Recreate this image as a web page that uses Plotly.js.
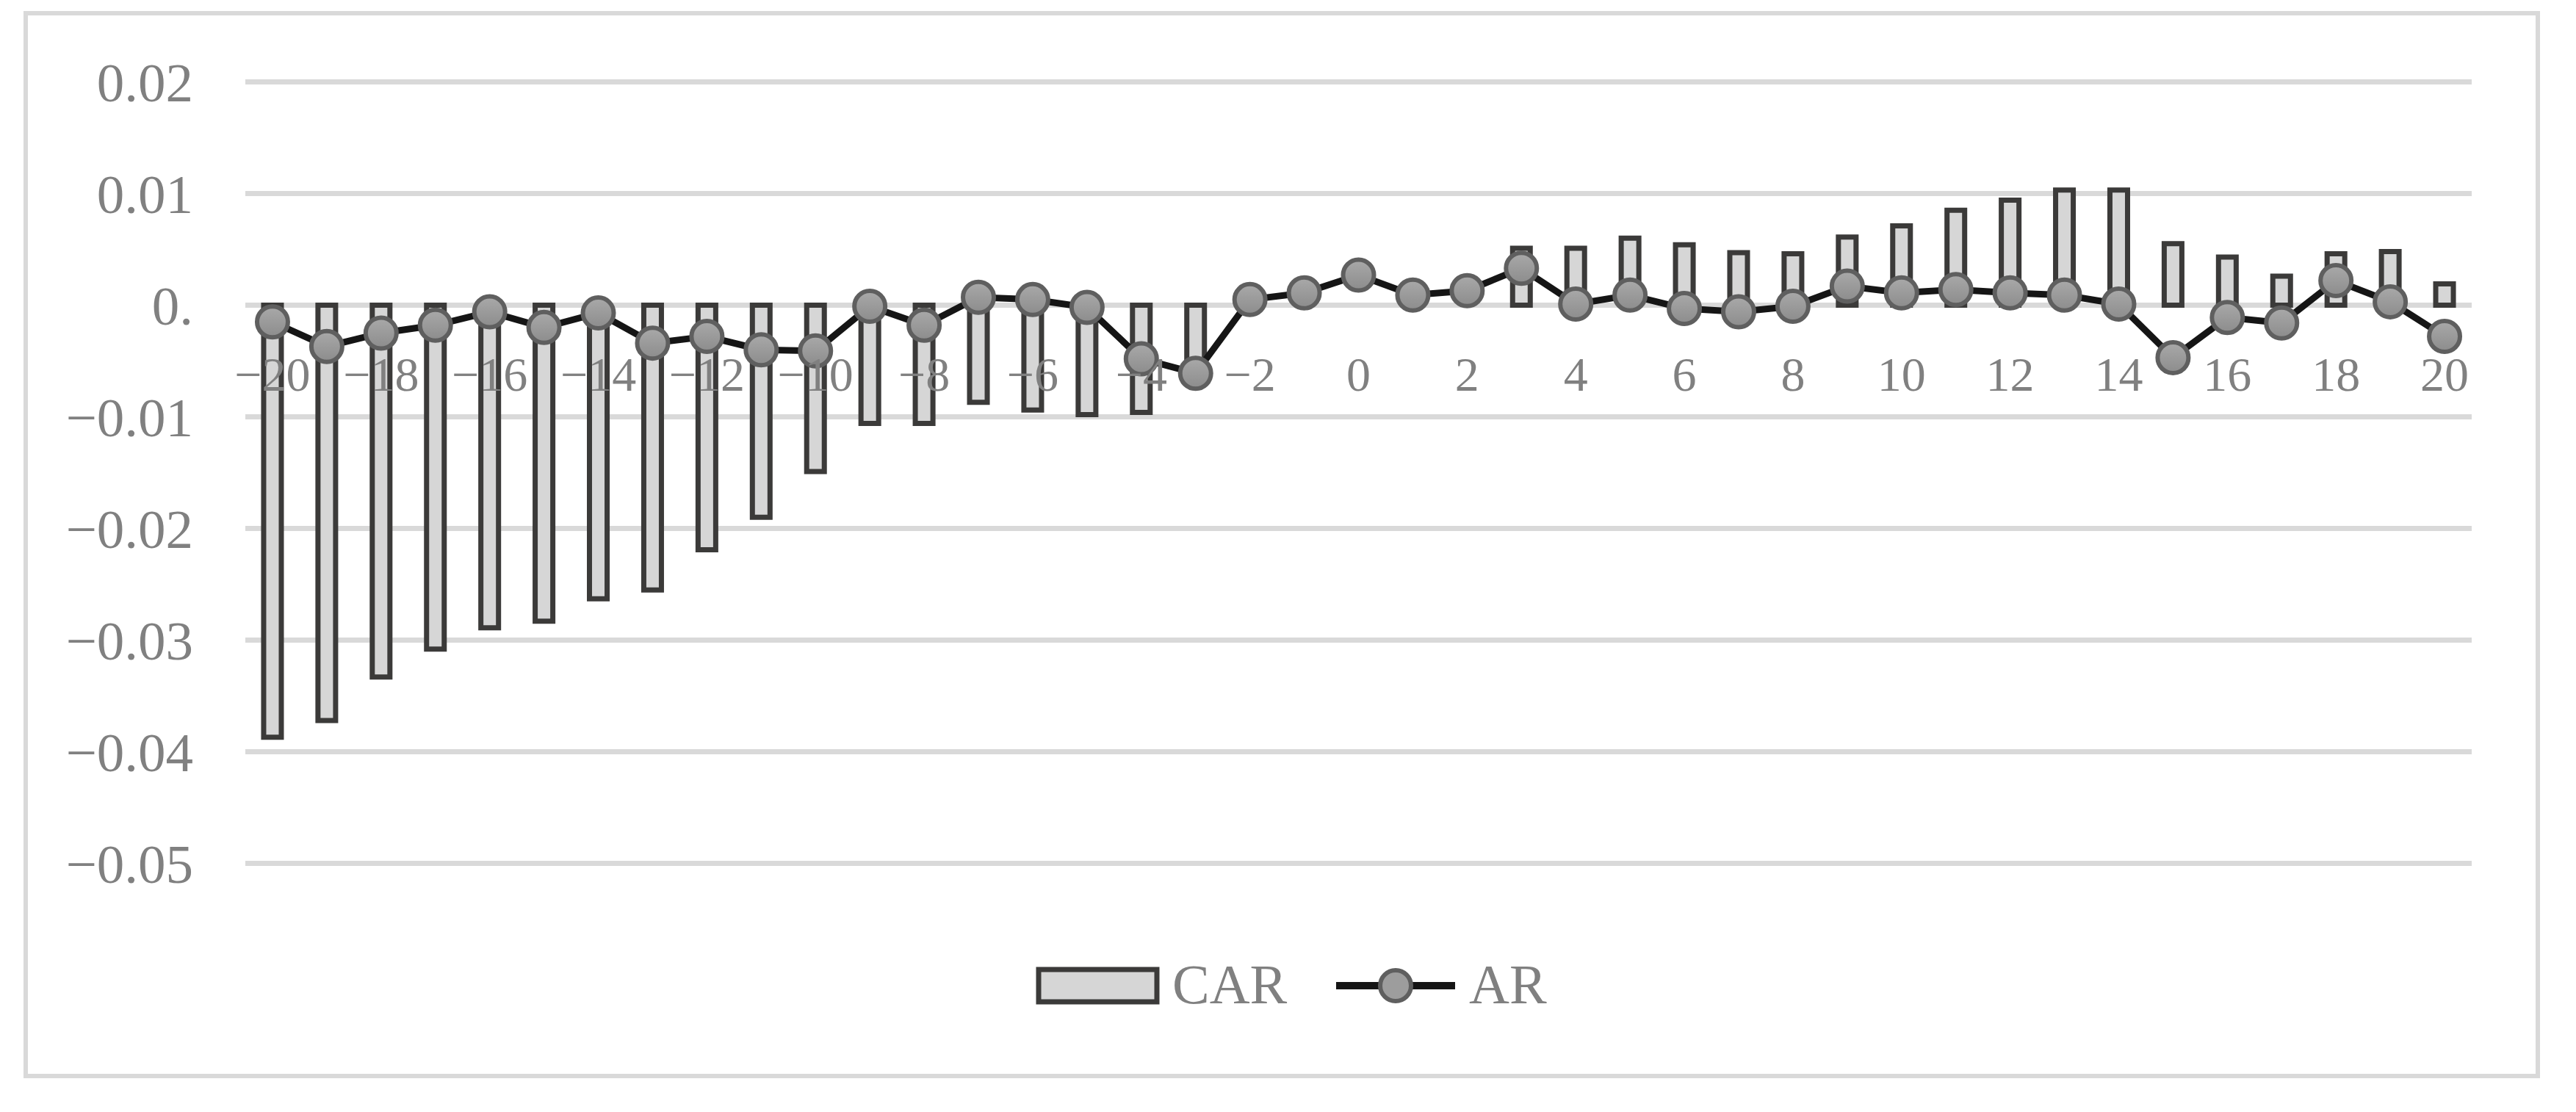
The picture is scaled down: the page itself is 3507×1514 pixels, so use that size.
<!DOCTYPE html>
<html>
<head>
<meta charset="utf-8">
<script src="https://cdn.plot.ly/plotly-3.0.1.min.js"></script>
<style>
  html, body { margin: 0; padding: 0; background: #fff; }
  #chart { width: 3507px; height: 1514px; }
</style>
</head>
<body>
<div id="chart"></div>
<script>
// event window days
const days = [];
for (let d = -20; d <= 20; d++) days.push(d);

// cumulative abnormal return (bars); days -2..2 show no visible bar
const car = [
  -0.0387, -0.0372, -0.0333, -0.0308, -0.0289, -0.0283, -0.0263, -0.0255, -0.0219, -0.0190,
  -0.0149, -0.0106, -0.0106, -0.0087, -0.0094, -0.0098, -0.0096, -0.0060, null, null,
  null, null, null, 0.0051, 0.0051, 0.0060, 0.0054, 0.0047, 0.0046, 0.0061,
  0.0071, 0.0085, 0.0094, 0.0103, 0.0103, 0.0055, 0.0043, 0.0026, 0.0046, 0.0048,
  0.0019
];

// abnormal return (line)
const ar = [
  -0.0015, -0.0037, -0.0025, -0.0018, -0.0006, -0.0020, -0.0007, -0.0034, -0.0028, -0.0040,
  -0.0041, -0.0001, -0.0018, 0.0007, 0.0005, -0.0002, -0.0048, -0.0061, 0.0005, 0.0011,
  0.0027, 0.0009, 0.0013, 0.0033, 0.0001, 0.0009, -0.0003, -0.0006, -0.0001, 0.0017,
  0.0011, 0.0014, 0.0011, 0.0009, 0.0001, -0.0047, -0.0011, -0.0016, 0.0022, 0.0003,
  -0.0028
];

// y axis ticks
const yTickVals = [0.02, 0.01, 0, -0.01, -0.02, -0.03, -0.04, -0.05];
const yTickText = ['0.02', '0.01', '0.', '\u22120.01', '\u22120.02', '\u22120.03', '\u22120.04', '\u22120.05'];

// plot area in pixels
const L = 334, T = 81, W = 3031, H = 1125;
const yRange = [-0.052, 0.022];
const px2x = px => (px - L) / W;
const py2y = py => (T + H - py) / H;

const FONT = 'Liberation Serif, Times New Roman, serif';
const GREY_TEXT = '#808080';

const data = [
  {
    x: days,
    y: car,
    type: 'bar',
    name: 'CAR',
    width: 0.325,
    marker: { color: '#d6d6d6', line: { color: '#3b3a39', width: 7 } },
    showlegend: false
  },
  {
    x: days,
    y: ar,
    type: 'scatter',
    mode: 'lines+markers',
    name: 'AR',
    line: { color: '#151515', width: 9 },
    marker: {
      size: 42,
      color: '#a9a9a9',
      gradient: { type: 'vertical', color: '#8c8c8c' },
      line: { color: '#5f5f5f', width: 6 }
    },
    showlegend: false
  }
];

const layout = {
  width: 3507,
  height: 1514,
  margin: { l: L, r: 3507 - L - W, t: T, b: 1514 - T - H },
  paper_bgcolor: '#ffffff',
  plot_bgcolor: '#ffffff',
  showlegend: false,
  xaxis: {
    type: 'linear',
    range: [-20.5, 20.5],
    tickmode: 'linear',
    tick0: -20,
    dtick: 2,
    showgrid: false,
    zeroline: false,
    showline: false,
    ticks: '',
    anchor: 'free',
    position: (0 - yRange[0]) / (yRange[1] - yRange[0]),
    ticklabelstandoff: 50,
    tickfont: { family: FONT, size: 66, color: GREY_TEXT }
  },
  yaxis: {
    range: yRange,
    tickmode: 'array',
    tickvals: yTickVals,
    ticktext: yTickText,
    showgrid: true,
    gridcolor: '#d9d9d9',
    gridwidth: 7,
    zeroline: false,
    showline: false,
    ticks: '',
    ticklabelstandoff: 70,
    tickfont: { family: FONT, size: 75, color: GREY_TEXT }
  },
  shapes: [
    // outer frame
    {
      type: 'rect', xref: 'paper', yref: 'paper',
      x0: px2x(35), x1: px2x(3455), y0: py2y(18), y1: py2y(1465),
      line: { color: '#d9d9d9', width: 6 }, fillcolor: 'rgba(0,0,0,0)'
    },
    // legend: CAR box
    {
      type: 'rect', xref: 'paper', yref: 'paper',
      x0: px2x(1414), x1: px2x(1575), y0: py2y(1320), y1: py2y(1364),
      line: { color: '#3b3a39', width: 7 }, fillcolor: '#d6d6d6'
    },
    // legend: AR line
    {
      type: 'line', xref: 'paper', yref: 'paper',
      x0: px2x(1819), x1: px2x(1981), y0: py2y(1342), y1: py2y(1342),
      line: { color: '#151515', width: 10 }
    },
    // legend: AR marker
    {
      type: 'circle', xref: 'paper', yref: 'paper',
      x0: px2x(1879), x1: px2x(1921), y0: py2y(1321), y1: py2y(1363),
      line: { color: '#5f5f5f', width: 6 }, fillcolor: '#9d9d9d'
    }
  ],
  annotations: [
    {
      xref: 'paper', yref: 'paper', x: px2x(1594), y: py2y(1340),
      xanchor: 'left', yanchor: 'middle', showarrow: false, text: 'CAR',
      font: { family: FONT, size: 76, color: GREY_TEXT }
    },
    {
      xref: 'paper', yref: 'paper', x: px2x(1998), y: py2y(1340),
      xanchor: 'left', yanchor: 'middle', showarrow: false, text: 'AR',
      font: { family: FONT, size: 76, color: GREY_TEXT }
    }
  ]
};

Plotly.newPlot('chart', data, layout, { staticPlot: true, displayModeBar: false });
</script>
</body>
</html>
